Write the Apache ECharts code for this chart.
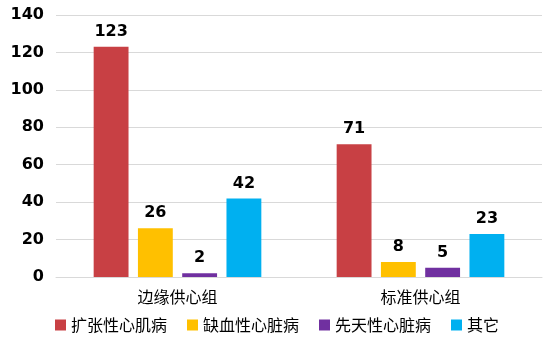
<!DOCTYPE html>
<html>
<head>
<meta charset="utf-8">
<script src="https://cdn.jsdelivr.net/npm/echarts@6/dist/echarts.min.js"></script>
<style>
  html, body { margin: 0; padding: 0; background: #fff; }
  #chart { width: 554px; height: 354px; }
</style>
</head>
<body>
<div id="chart"></div>
<script>
var groups = ['边缘供心组', '标准供心组'];
var seriesNames = ['扩张性心肌病', '缺血性心脏病', '先天性心脏病', '其它'];
var dilated = [123, 71];
var ischemic = [26, 8];
var congenital = [2, 5];
var others = [42, 23];
var colors = ['#C84044', '#FFC000', '#7030A0', '#00B0F0'];

var myChart = echarts.init(document.getElementById('chart'));
var numFont = 'Verdana, "DejaVu Sans", sans-serif';
var cjkFont = '"Noto Sans CJK SC", sans-serif';

var values = [dilated, ischemic, congenital, others];
var series = seriesNames.map(function (name, i) {
    return {
        name: name,
        type: 'bar',
        data: values[i],
        barGap: '27%',
        barCategoryGap: '31%',
        itemStyle: { color: colors[i] },
        label: {
            show: true,
            position: 'top',
            distance: 7,
            color: '#000',
            fontSize: 16,
            fontWeight: 'bold',
            fontFamily: numFont
        }
    };
});

var option = {
    animation: false,
    color: colors,
    grid: { left: 56, right: 12, top: 15, bottom: 77 },
    legend: {
        data: seriesNames,
        bottom: 16,
        left: 'center',
        icon: 'rect',
        itemWidth: 11,
        itemHeight: 11,
        itemGap: 20,
        textStyle: { fontSize: 16, color: '#000', fontFamily: cjkFont }
    },
    xAxis: {
        type: 'category',
        data: groups,
        axisLine: { lineStyle: { color: '#d9d9d9' } },
        axisTick: { show: false },
        axisLabel: { fontSize: 16, color: '#000', fontFamily: cjkFont, margin: 12 }
    },
    yAxis: {
        type: 'value',
        min: 0,
        max: 140,
        interval: 20,
        axisLine: { show: false },
        axisTick: { show: false },
        splitLine: { lineStyle: { color: '#d9d9d9' } },
        axisLabel: { fontSize: 16, fontWeight: 'bold', color: '#000', fontFamily: numFont, margin: 12 }
    },
    series: series
};

myChart.setOption(option);
</script>
</body>
</html>
